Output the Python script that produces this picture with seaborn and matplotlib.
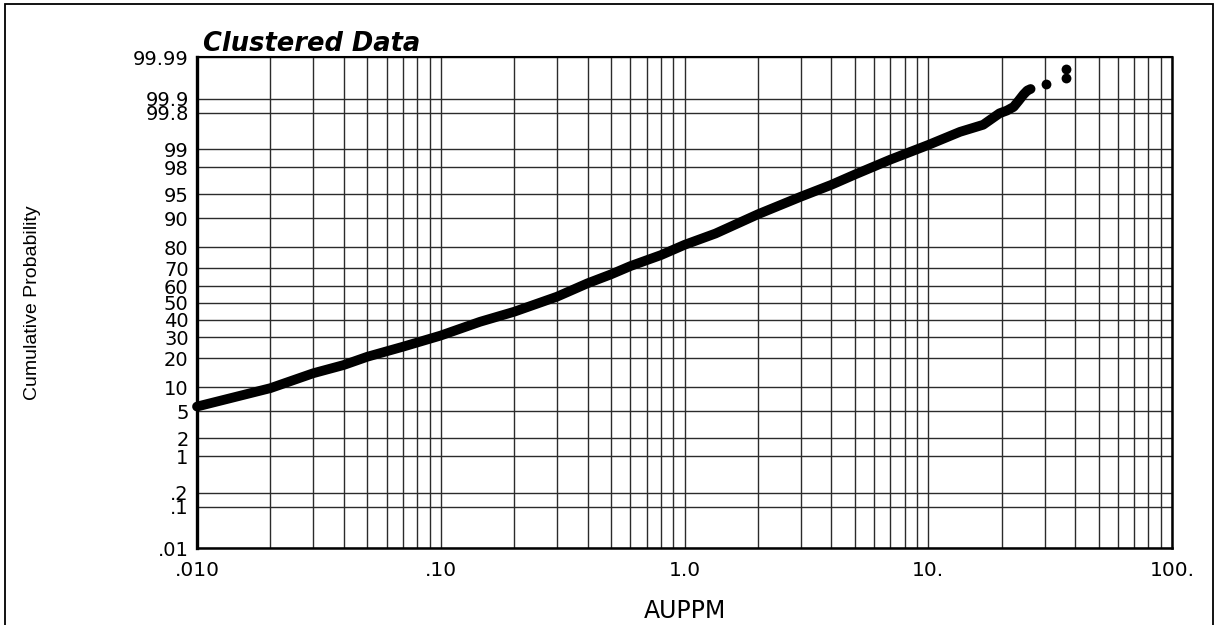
import math
import numpy as np
import pandas as pd
import matplotlib
matplotlib.use("Agg")
import matplotlib.pyplot as plt
import seaborn as sns
from matplotlib.ticker import FixedLocator, FixedFormatter, NullFormatter
from matplotlib.patches import Rectangle

# ---------------- data ----------------
au_ppm = [0.0100, 0.0200, 0.0300, 0.0400, 0.0500, 0.0700, 0.100, 0.145, 0.200,
          0.300, 0.400, 0.500, 0.600, 0.800, 1.00, 1.34, 2.00, 3.00, 4.00, 5.00,
          7.00, 10.0, 13.5, 16.8, 19.6, 21.0, 22.4, 23.5, 24.6, 25.5, 26.3]
cum_prob = [5.8, 9.8, 14.3, 17.3, 20.7, 25.3, 31.0, 38.7, 44.6,
            53.7, 61.6, 66.7, 71.1, 76.5, 81.0, 85.3, 91.0, 94.6, 96.3, 97.4,
            98.5, 99.16, 99.52, 99.65, 99.795, 99.82, 99.85, 99.89, 99.92, 99.935, 99.94]
outlier_au = [30.5, 36.6, 36.6]
outlier_prob = [99.953, 99.9675, 99.980]

y_tick_values = [0.01, 0.1, 0.2, 1, 2, 5, 10, 20, 30, 40, 50, 60, 70, 80, 90,
                 95, 98, 99, 99.8, 99.9, 99.99]
y_tick_labels = [".01", ".1", ".2", "1", "2", "5", "10", "20", "30", "40", "50",
                 "60", "70", "80", "90", "95", "98", "99", "99.8", "99.9", "99.99"]
x_tick_values = [0.01, 0.1, 1, 10, 100]
x_tick_labels = [".010", ".10", "1.0", "10.", "100."]

# ---------------- normal probability scale ----------------
_a = [-3.969683028665376e+01, 2.209460984245205e+02, -2.759285104469687e+02,
      1.383577518672690e+02, -3.066479806614716e+01, 2.506628277459239e+00]
_b = [-5.447609879822406e+01, 1.615858368580409e+02, -1.556989798598866e+02,
      6.680131188771972e+01, -1.328068155288572e+01]
_c = [-7.784894002430293e-03, -3.223964580411365e-01, -2.400758277161838e+00,
      -2.549732539343734e+00, 4.374664141464968e+00, 2.938163982698783e+00]
_d = [7.784695709041462e-03, 3.224671290700398e-01, 2.445134137142996e+00,
      3.754408145901013e+00]
_plow = 0.02425


def _tail(q):
    num = ((((_c[0] * q + _c[1]) * q + _c[2]) * q + _c[3]) * q + _c[4]) * q + _c[5]
    den = (((_d[0] * q + _d[1]) * q + _d[2]) * q + _d[3]) * q + 1
    return num / den


def norm_ppf(p):
    p = np.asarray(p, dtype=float)
    shape = p.shape
    p = np.atleast_1d(p).ravel()
    out = np.empty_like(p)
    lo = p < _plow
    hi = p > 1 - _plow
    mid = ~(lo | hi)
    out[lo] = _tail(np.sqrt(-2 * np.log(p[lo])))
    q = p[mid] - 0.5
    r = q * q
    num = ((((_a[0] * r + _a[1]) * r + _a[2]) * r + _a[3]) * r + _a[4]) * r + _a[5]
    den = ((((_b[0] * r + _b[1]) * r + _b[2]) * r + _b[3]) * r + _b[4]) * r + 1
    out[mid] = num * q / den
    out[hi] = -_tail(np.sqrt(-2 * np.log(1 - p[hi])))
    return out.reshape(shape)


_erf = np.vectorize(math.erf)


def prob_forward(y):
    p = np.clip(np.asarray(y, dtype=float) / 100.0, 1e-12, 1 - 1e-12)
    return norm_ppf(p)


def prob_inverse(z):
    z = np.asarray(z, dtype=float)
    return 100.0 * 0.5 * (1.0 + _erf(z / math.sqrt(2.0)))


# ---------------- figure ----------------
sns.set_theme(style="white")
plt.rcParams["font.family"] = ["DejaVu Sans"]

fig = plt.figure(figsize=(12.21, 6.25), dpi=100)
ax = fig.add_axes([197 / 1221, 1 - 548.3 / 625, (1172 - 197) / 1221, (548.3 - 57.3) / 625])

df = pd.DataFrame({"AUPPM": au_ppm, "Cumulative Probability": cum_prob})
sns.lineplot(data=df, x="AUPPM", y="Cumulative Probability", ax=ax, color="black",
             linewidth=7, estimator=None, sort=False, solid_capstyle="round",
             solid_joinstyle="round", clip_on=False, zorder=5)
sns.scatterplot(x=outlier_au, y=outlier_prob, ax=ax, color="black", s=50,
                linewidth=0, zorder=5, clip_on=False)

ax.set_xscale("log")
ax.set_yscale("function", functions=(prob_forward, prob_inverse))
ax.set_xlim(0.01, 100)
ax.set_ylim(0.01, 99.99)

# ticks
ax.xaxis.set_major_locator(FixedLocator(x_tick_values))
ax.xaxis.set_major_formatter(FixedFormatter(x_tick_labels))
minor_x = [m * 10.0 ** e for e in range(-2, 2) for m in range(2, 10)]
ax.xaxis.set_minor_locator(FixedLocator(minor_x))
ax.xaxis.set_minor_formatter(NullFormatter())
ax.yaxis.set_major_locator(FixedLocator(y_tick_values))
ax.yaxis.set_major_formatter(FixedFormatter(y_tick_labels))
ax.yaxis.set_minor_locator(FixedLocator([]))

ax.tick_params(axis="both", which="both", length=0, colors="black")
ax.tick_params(axis="x", labelsize=14.5, pad=9)
ax.tick_params(axis="y", labelsize=14, pad=6)

ax.grid(True, which="both", axis="both", color="#2b2b2b", linewidth=1.0)
ax.set_axisbelow(True)

for side, lw in [("left", 2.4), ("bottom", 1.8), ("top", 1.5), ("right", 1.8)]:
    ax.spines[side].set_visible(True)
    ax.spines[side].set_color("black")
    ax.spines[side].set_linewidth(lw)

ax.set_xlabel("AUPPM", fontsize=17, labelpad=14, color="black")
ax.set_ylabel("Cumulative Probability", fontsize=14, color="black",
              family=["Liberation Sans", "DejaVu Sans"])
ax.yaxis.set_label_coords((41 - 197) / 975, 0.5)

ax.text(0.006, 1.013, "Clustered Data", transform=ax.transAxes, fontsize=18.5,
        fontweight="bold", fontstyle="italic", va="baseline", ha="left", color="black")

# outer frame (open at the bottom, as in the reference)
fig.add_artist(Rectangle((5 / 1221, -0.1), (1213 - 5) / 1221, (1 - 4 / 625) + 0.1,
                         transform=fig.transFigure, fill=False, edgecolor="black",
                         linewidth=1.3))

fig.savefig("out.png", dpi=100)
